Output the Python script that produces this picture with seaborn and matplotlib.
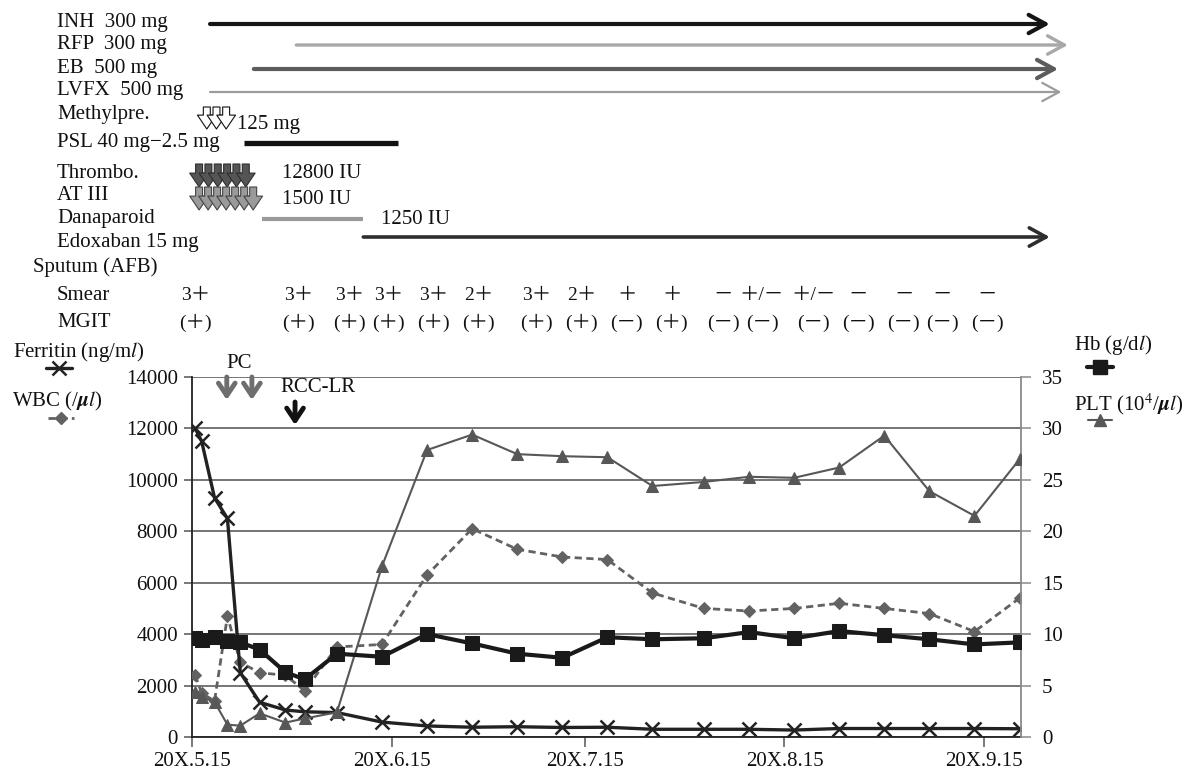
import numpy as np
import pandas as pd
import matplotlib
matplotlib.use("Agg")
import matplotlib.pyplot as plt
from matplotlib.lines import Line2D
import seaborn as sns

# ---------------- laboratory course (days after 20X.5.15) ----------------
days = [0, 1, 3, 5, 7, 10, 14, 17, 22, 29, 36, 43, 50, 57, 64, 71, 79, 86,
        93, 100, 107, 114, 121, 128]
ferritin = [12000, 11500, 9300, 8500, 2500, 1350, 1050, 980, 950, 580, 430,
            380, 400, 370, 380, 300, 300, 300, 270, 330, 330, 330, 330, 320]
wbc = [2400, 1700, 1400, 4700, 2900, 2500, 2400, 1800, 3500, 3600, 6300, 8100,
       7300, 7000, 6900, 5600, 5000, 4900, 5000, 5200, 5000, 4800, 4100, 5400]
hb = [9.6, 9.45, 9.7, 9.3, 9.2, 8.5, 6.3, 5.6, 8.1, 7.8, 10.0, 9.1, 8.1, 7.7,
      9.7, 9.5, 9.6, 10.2, 9.6, 10.3, 9.9, 9.5, 9.0, 9.2]
platelets = [4.4, 3.9, 3.4, 1.2, 1.1, 2.3, 1.4, 1.8, 2.4, 16.6, 27.9, 29.4,
             27.5, 27.3, 27.2, 24.4, 24.8, 25.3, 25.2, 26.2, 29.3, 23.9, 21.5,
             27.0]

tick_days = [0, 31, 61, 92, 123]
tick_labels = ["20X.5.15", "20X.6.15", "20X.7.15", "20X.8.15", "20X.9.15"]

# ---------------- sputum examinations ----------------
sputum_days = [0, 16, 24, 30, 37, 44, 53, 60, 67, 74, 82, 88, 96, 103, 110,
               116, 123]
smear = ["3＋", "3＋", "3＋", "3＋", "3＋", "2＋", "3＋", "2＋", "＋", "＋", "－",
         "＋/－", "＋/－", "－", "－", "－", "－"]
mgit = ["(＋)", "(＋)", "(＋)", "(＋)", "(＋)", "(＋)", "(＋)", "(＋)", "(－)",
        "(＋)", "(－)", "(－)", "(－)", "(－)", "(－)", "(－)", "(－)"]

# ---------------- treatment (start day, arrow tip day) ----------------
tb_drugs = ["INH  300 mg", "RFP  300 mg", "EB  500 mg", "LVFX  500 mg"]
tb_start = [2.8, 16.2, 9.6, 2.8]
tb_end = [133.2, 136.0, 134.5, 135.0]
psl_span = [8.1, 32.0]
danaparoid_span = [10.9, 26.6]
edoxaban_span = [26.6, 133.2]
methylpre_days = [2.3, 3.8, 5.3]
thrombo_days = [1.1, 2.55, 4.0, 5.45, 6.9, 8.35]
at3_days = [1.1, 2.5, 3.9, 5.3, 6.7, 8.1, 9.5]
pc_days = [5.4, 9.3]
rcc_day = 16.0

sns.set_theme(style="white")
plt.rcParams["font.family"] = ["Liberation Serif", "Noto Sans CJK JP", "DejaVu Sans"]
plt.rcParams["mathtext.fontset"] = "stix"

W, H = 1188, 774
fig = plt.figure(figsize=(W / 100, H / 100), dpi=100)


def fx(x):
    return x / W


def fy(y):
    return 1 - y / H


X0, X1, Y0, Y1 = 192, 1021, 377, 737
ax = fig.add_axes([fx(X0), fy(Y1), (X1 - X0) / W, (Y1 - Y0) / H])
ax2 = ax.twinx()
top = fig.add_axes([fx(X0), fy(Y0), (X1 - X0) / W, Y0 / H])

df = pd.DataFrame({"pos": np.array(days) + 0.5, "ferritin": ferritin,
                   "wbc": wbc, "hb": hb, "plt": platelets})

FS = 15
sns.lineplot(data=df, x="pos", y="ferritin", ax=ax, color="#222222", lw=2.4,
             marker="x", markersize=10, mew=1.8, mec="#222222",
             estimator=None, sort=False, zorder=4)
sns.lineplot(data=df, x="pos", y="wbc", ax=ax, color="#626262", lw=2.0,
             linestyle=(0, (2.6, 1.6)), marker="D", markersize=6.5,
             mec="#626262", mfc="#626262", estimator=None, sort=False,
             zorder=3)
sns.lineplot(data=df, x="pos", y="hb", ax=ax2, color="#1a1a1a", lw=3.0,
             marker="s", markersize=9.5, mec="#1a1a1a", mfc="#1a1a1a",
             estimator=None, sort=False, zorder=4)
sns.lineplot(data=df, x="pos", y="plt", ax=ax2, color="#575757", lw=1.5,
             marker="^", markersize=8.5, mec="#575757", mfc="#575757",
             estimator=None, sort=False, zorder=3)

xlim = (0, (X1 - X0) / 6.44)
for a in (ax, ax2, top):
    a.set_xlim(*xlim)
ax.set_ylim(0, 14000)
ax2.set_ylim(0, 35)
ax.set_yticks(np.arange(0, 14001, 2000))
ax2.set_yticks(np.arange(0, 36, 5))
ax.set_xticks(tick_days)
ax.set_xticklabels(tick_labels)
for a in (ax, ax2):
    a.set_xlabel("")
    a.set_ylabel("")
ax.yaxis.grid(True, color="#6a6a6a", lw=1.3)
ax.xaxis.grid(False)
ax2.grid(False)
ax.set_axisbelow(True)

for s in ("top", "right"):
    ax.spines[s].set_visible(False)
for s in ("top", "left", "bottom"):
    ax2.spines[s].set_visible(False)
ax.spines["left"].set_color("#222222")
ax.spines["bottom"].set_color("#222222")
ax.spines["left"].set_linewidth(1.3)
ax.spines["bottom"].set_linewidth(1.3)
ax2.spines["right"].set_color("#8a8a8a")
ax2.spines["right"].set_linewidth(1.3)

ax.tick_params(axis="y", left=True, direction="out", length=6, width=1.1,
               color="#555555", labelsize=FS, pad=4, labelcolor="#111111")
ax.tick_params(axis="x", bottom=True, direction="out", length=7, width=1.1,
               color="#555555", labelsize=FS, pad=4, labelcolor="#111111")
ax2.tick_params(axis="y", right=True, direction="out", length=7, width=1.1,
                color="#8a8a8a", labelsize=FS, pad=8, labelcolor="#111111")

# ---------------- series captions with legend keys ----------------
def label(x, y, s, size=FS, va="center", **kw):
    fig.text(fx(x), fy(y), s, fontsize=size, ha="left", va=va,
             color="#111111", **kw)


def key(x0, x1, y, **kw):
    xm = (x0 + x1) / 2
    fig.add_artist(Line2D([fx(x0), fx(xm), fx(x1)], [fy(y)] * 3,
                          transform=fig.transFigure, markevery=[1], **kw))


label(13, 357, r"Ferritin (ng/m$\mathit{l}$)", va="baseline")
key(46, 72, 368, color="#222222", lw=2.4, marker="x", markersize=10, mew=1.8)
label(12, 406, r"WBC (/$\boldsymbol{\mu}\mathit{l}$)", va="baseline")
key(48, 74, 418, color="#626262", lw=2.0, linestyle=(0, (2.6, 1.6)),
    marker="D", markersize=6.5)
label(1074, 350, r"Hb (g/d$\mathit{l}$)", va="baseline")
key(1087, 1113, 367, color="#1a1a1a", lw=3.0, marker="s", markersize=9.5)
label(1074, 410, r"PLT (10$^4$/$\boldsymbol{\mu}\mathit{l}$)", va="baseline")
key(1088, 1112, 420, color="#575757", lw=1.5, marker="^", markersize=8.5)

# ---------------- treatment timeline ----------------
top.set_ylim(Y0, 0)
top.axis("off")
top.set_zorder(5)

tb_rows = [24, 45, 69, 92]
tb_colors = ["#151515", "#a8a8a8", "#5c5c5c", "#9c9c9c"]
tb_widths = [3.0, 2.4, 3.0, 1.6]
for name, s, e, y, c, w in zip(tb_drugs, tb_start, tb_end, tb_rows,
                               tb_colors, tb_widths):
    label(57, y - 1, name)
    top.annotate("", xy=(e, y), xytext=(s, y), annotation_clip=False,
                 arrowprops=dict(arrowstyle="->,head_length=0.55,head_width=0.3",
                                 lw=w, color=c, shrinkA=0, shrinkB=0,
                                 mutation_scale=22))


def block_arrows(dlist, y0, y1, fc, ec):
    for d in dlist:
        top.annotate("", xy=(d, y1), xytext=(d, y0), annotation_clip=False,
                     arrowprops=dict(arrowstyle="simple,head_length=1.0,"
                                     "head_width=1.35,tail_width=0.5",
                                     fc=fc, ec=ec, lw=0.8, shrinkA=0,
                                     shrinkB=0, mutation_scale=10))


label(57, 115, "Methylpre.")
block_arrows(methylpre_days, 107, 129, "white", "#111111")
label(237, 124, "125 mg")

label(57, 143, "PSL 40 mg−2.5 mg")
top.plot(psl_span, [143, 143], color="#111111", lw=3.8,
         solid_capstyle="butt", clip_on=False)

label(57, 173, "Thrombo.")
block_arrows(thrombo_days, 164, 187, "#555555", "#2e2e2e")
label(282, 173, "12800 IU")

label(57, 196, "AT III")
block_arrows(at3_days, 187, 210, "#9a9a9a", "#444444")
label(282, 200, "1500 IU")

label(57, 219, "Danaparoid")
top.plot(danaparoid_span, [219, 219], color="#9a9a9a", lw=3.0,
         solid_capstyle="butt", clip_on=False)
label(381, 219, "1250 IU")

label(57, 242, "Edoxaban 15 mg")
top.annotate("", xy=(edoxaban_span[1], 237), xytext=(edoxaban_span[0], 237),
             annotation_clip=False,
             arrowprops=dict(arrowstyle="->,head_length=0.55,head_width=0.3",
                             lw=2.6, color="#2e2e2e", shrinkA=0, shrinkB=0,
                             mutation_scale=22))

# ---------------- sputum rows ----------------
label(33, 267, "Sputum (AFB)")
label(57, 296, "Smear")
label(57, 323, "MGIT")
for d, s, m in zip(sputum_days, smear, mgit):
    top.text(d + 0.5, 295, s, fontsize=14, ha="center", va="center",
             color="#111111", clip_on=False)
    top.text(d + 0.5, 323, m, fontsize=14, ha="center", va="center",
             color="#111111", clip_on=False)

# ---------------- procedures ----------------
top.text(np.mean(pc_days), 364, "PC", fontsize=FS, ha="center", va="center",
         color="#111111", clip_on=False)
for d in pc_days:
    top.annotate("", xy=(d, 400), xytext=(d, 377), annotation_clip=False,
                 arrowprops=dict(arrowstyle="->,head_length=0.45,head_width=0.3",
                                 lw=3.5, color="#6e6e6e", shrinkA=0,
                                 shrinkB=0, mutation_scale=20))
top.text(rcc_day + 3.5, 387, "RCC-LR", fontsize=FS, ha="center", va="center",
         color="#111111", clip_on=False)
top.annotate("", xy=(rcc_day, 425), xytext=(rcc_day, 402), annotation_clip=False,
             arrowprops=dict(arrowstyle="->,head_length=0.45,head_width=0.3",
                             lw=3.5, color="#111111", shrinkA=0, shrinkB=0,
                             mutation_scale=20))

fig.savefig("out.png", dpi=100)
